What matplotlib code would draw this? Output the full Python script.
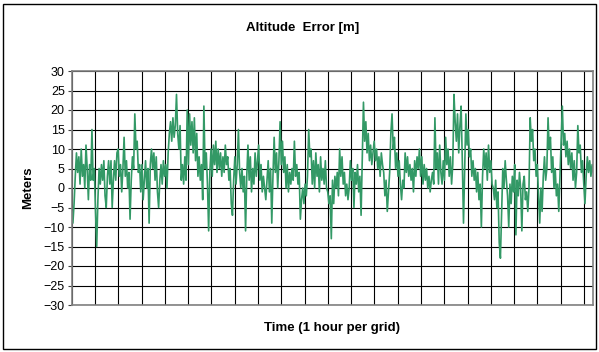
import numpy as np
import matplotlib
matplotlib.use('Agg')
import matplotlib.pyplot as plt
from matplotlib.patches import Rectangle

plt.rcParams['font.family'] = ['Liberation Sans', 'DejaVu Sans']

# altitude error samples [m], read across the record left to right
erro_1 = [-6, -9, -4, 3, 9, 4, 8, 1, 10, 3, 6, 0, 11, 5, -3, 6, 2, 15, 2, 5, -6, -15, -3, 5,
          1, 6, 2, 7, -2, -5, 3, 7, 1, 7, -5, 2, 7, 2, 9, 10, 3, 6, -1, 5, 13, 3, 7, 0, 4,
          -8, 2, 8, 5, 19, 10, 12, 4, 6, -1, 6, -3, 2, 7, 0, 5, -9, 6, 10, 5, 9, 2, 8, -1]
erro_2 = [-5, 2, 6, 1, 7, 3, 6, 0, 9, 14, 17, 12, 18, 13, 16, 24, 14, 10, 16, 2, 6, 1, 8, 2,
          20, 6, 19, 11, 17, 9, 18, 7, 14, 3, 8, 2, 6, -3, 21, 5, 9, 1, -11, 4, 10, 3, 11, 6,
          12, 4, 10, 5, 9, 3, 8, 4, 11, 6, 8, 2, 5, -4, -7, 2, 8, 1, 6, 15, 4, 0, 5, -1, 3, -11]
erro_3 = [3, 11, 2, 8, -1, 5, 1, 9, 3, 7, 11, 2, 6, -1, 3, 0, -3, 2, 7, -1, 5, -9, 3, 13, 4,
          9, 0, 7, 17, 6, 12, 4, 8, 0, 6, -1, 4, 1, 5, 2, 12, 3, 6, 1, 4, -8, -3, 0, -4, 1, -2,
          3, 15, 8, 10, 1, 7, 0, 9, 3, 6, -1, 8, 2, 5, 1, 7, 0, -1, -4, -2, -13]
erro_4 = [2, -4, 3, 0, 4, -2, 10, 3, 8, 1, 4, -2, 1, -3, 0, 7, 2, 5, -5, 4, 1, 6, -1, 3, -7,
          8, 22, 12, 17, 9, 14, 7, 11, 6, 9, 12, 7, 10, 5, 8, 3, 9, 6, 4, -2, 2, -6, -1, 4, 14,
          19, 10, 13, 5, 9, 3, 7, 1, -3, 2, 0, 9, 4, 8, 3, 6, 2, 5, -1, 7, 3, 8, 5]
erro_5 = [10, 3, 8, 1, 6, 2, 5, 0, 3, -1, 2, 4, 1, 18, 5, 9, 1, 11, 4, 1, 7, 2, 13, 6, 10, 3,
          8, 1, 6, 24, 17, 12, 19, 9, 16, 21, 7, -9, 5, 19, 11, 15, 8, 10, 3, 7, 2, 5, -1, 4,
          -3, 1, -10, 3, 10, 5, 9, 2, 11, 4, 7, 1, 0, -3, 2, -5, -1, -14, -18, -6, 5, 0, 7, 2]
erro_6 = [-2, -10, 1, -4, 3, -1, 6, -12, 2, -2, 4, 0, -11, 1, 3, -3, -1, -6, 0, 18, 12, 15, 7,
          10, 3, 6, -2, -9, 0, -6, 3, 8, 2, 5, 18, 10, 13, 4, 8, 0, 5, -2, 1, -6, 3, 12, 21, 11,
          14, 8, 12, 6, 10, 5, 9, 2, 7, 0, 4, 16, 9, 11, 4, 7, 1, -4, 3, 8, 4, 7, 3, 6, 4]

erro = np.array(erro_1 + erro_2 + erro_3 + erro_4 + erro_5 + erro_6, dtype=float)
duracao = 22.4  # horas
tempo = np.linspace(0, duracao, len(erro))

y_ticks = list(range(-30, 31, 5))

fig = plt.figure(figsize=(5.99, 3.52), dpi=100)
ax = fig.add_axes([71.7 / 599, 1 - 305 / 352, (593.3 - 71.7) / 599, (305 - 71) / 352])

ax.plot(tempo, erro, color='#339966', lw=1.2)

ax.set_xlim(0, duracao)
ax.set_ylim(-30, 30)
ax.set_xticks(np.arange(0, duracao, 1))
ax.set_yticks(y_ticks)
ax.tick_params(axis='x', length=0, labelbottom=False)
ax.tick_params(axis='y', length=3, width=0.8, color='#404040', labelsize=9, pad=2)
ax.grid(True, color='black', lw=0.8)
ax.set_axisbelow(True)
for s in ax.spines.values():
    s.set_color('#808080')
    s.set_linewidth(1.2)

fig.text(0.505, 0.92, 'Altitude  Error [m]', ha='center', va='center',
         fontsize=9.5, fontweight='bold')
fig.text(0.555, 0.068, 'Time (1 hour per grid)', ha='center', va='center',
         fontsize=9.5, fontweight='bold')
fig.text(0.047, 1 - 188 / 352, 'Meters', ha='center', va='center', rotation=90,
         fontsize=9.5, fontweight='bold')

# moldura do gráfico
fig.patches.append(Rectangle((3 / 599, 3 / 352), 593 / 599, 345 / 352,
                             transform=fig.transFigure, fill=False,
                             edgecolor='black', lw=1.0))

fig.savefig('out.png', dpi=100)
